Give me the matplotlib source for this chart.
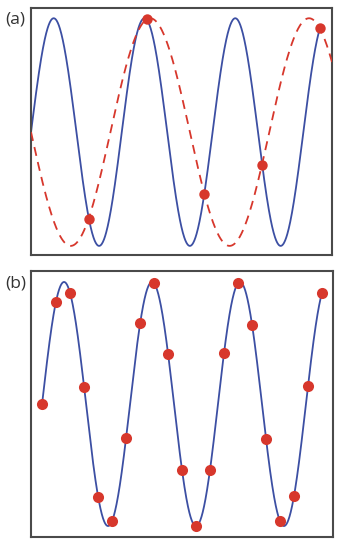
import numpy as np
import matplotlib
matplotlib.use("Agg")
import matplotlib.pyplot as plt

# ---- data ----
# Panel (a): undersampled sine (signal ~7/11 cycles per sample), alias ~4/11
a_signal_freq = 7 / 11      # cycles per sample interval
a_alias_freq = 4 / 11       # cycles per sample interval
a_sample_t = [1, 2, 3, 4, 5]
a_sample_v = [-0.76, 0.99, -0.54, -0.29, 0.91]

# Panel (b): same signal sampled 4x faster (~7/44 cycles per sample)
b_signal_freq = 7 / 44
b_sample_t = list(range(21))
b_sample_v = [0.00, 0.84, 0.91, 0.14, -0.76, -0.96, -0.28, 0.66, 0.99, 0.41,
              -0.54, -1.00, -0.54, 0.42, 0.99, 0.65, -0.29, -0.96, -0.75, 0.15, 0.91]

BLUE = "#3c4fa3"
RED = "#d7372c"
FRAME = "#4a4a4a"

plt.rcParams['font.family'] = ['Open Sans', 'DejaVu Sans']

fig = plt.figure(figsize=(3.52, 5.5), dpi=100)

# Panel (a)
ax1 = fig.add_axes([31/352, (550-255)/550, 301/352, 247/550])
t = np.linspace(0, 5, 800)
ax1.plot(t, np.sin(2*np.pi*a_signal_freq*t), color=BLUE, lw=1.3, zorder=2)
t2 = np.linspace(0, 5.21, 800)
ax1.plot(t2, -np.sin(2*np.pi*a_alias_freq*t2), color=RED, lw=1.3,
         dashes=(5, 3.5), zorder=3)
ax1.plot(a_sample_t, a_sample_v, 'o', color=RED, ms=7.5, mec='none', zorder=4)
ax1.set_xlim(0, 5.21)
ax1.set_ylim(-1.08, 1.09)

# Panel (b)
ax2 = fig.add_axes([31/352, (550-537)/550, 302/352, 266/550])
tb = np.linspace(0, 20, 1200)
ax2.plot(tb, np.sin(2*np.pi*b_signal_freq*tb), color=BLUE, lw=1.3, zorder=2)
ax2.plot(b_sample_t, b_sample_v, 'o', color=RED, ms=8, mec='none', zorder=4)
ax2.set_xlim(-0.79, 20.79)
ax2.set_ylim(-1.09, 1.09)

for ax in (ax1, ax2):
    ax.set_xticks([])
    ax.set_yticks([])
    for s in ax.spines.values():
        s.set_color(FRAME)
        s.set_linewidth(1.5)

fig.text(5/352, 1 - 19/550, "(a)", fontsize=12.5, color="#333333", va='center', ha='left')
fig.text(5/352, 1 - 284/550, "(b)", fontsize=12.5, color="#333333", va='center', ha='left')

fig.savefig("out.png", dpi=100)
